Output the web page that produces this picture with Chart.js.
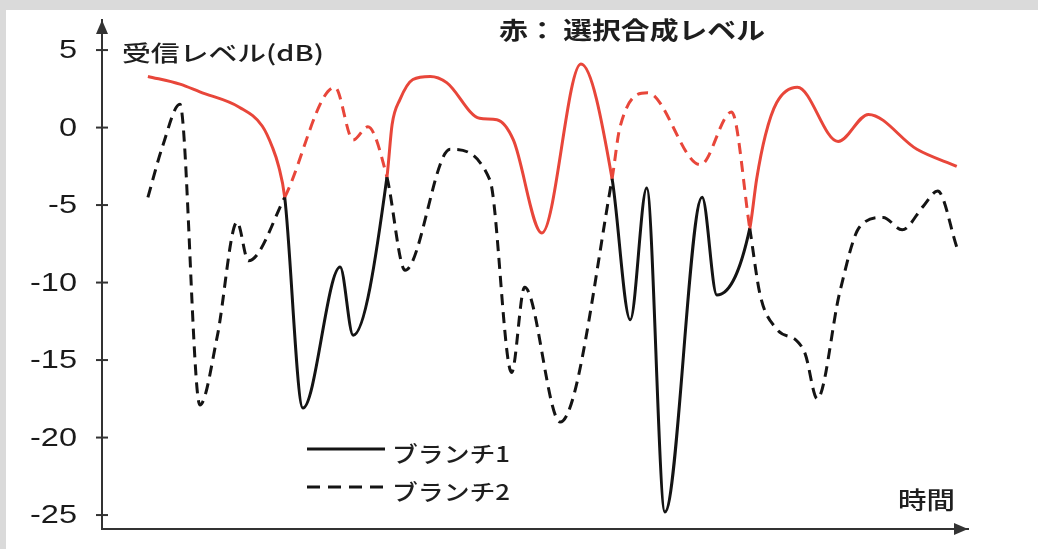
<!DOCTYPE html>
<html lang="ja">
<head>
<meta charset="UTF-8">
<title>選択合成ダイバーシチ</title>
<script src="https://cdn.jsdelivr.net/npm/chart.js"></script>
<style>
*{margin:0;padding:0;box-sizing:border-box;}
body{background:#dadada;width:1038px;height:549px;overflow:hidden;position:relative;}
.panel{position:absolute;left:6px;top:10px;right:0;bottom:0;background:#fff;}
.wrap{position:absolute;left:0;top:0;width:1038px;height:549px;}
</style>
</head>
<body>
<div class="panel"></div>
<div class="wrap"><canvas id="chart"></canvas></div>

<script>
// time axis runs 0..100, levels in dB
const branch1Time  = [5.3, 9.0, 11.3, 15.9, 18.5, 19.7, 20.4, 21.1, 23.2, 27.5, 29.0, 32.9, 33.5, 34.4, 35.9, 37.9, 39.8, 43.6, 45.6, 47.5, 50.8, 55.3, 58.9, 61.0, 62.9, 65.0, 69.3, 71.0, 74.8, 75.6, 76.6, 77.9, 80.3, 85.0, 88.5, 94.1, 98.7];
const branch1Level = [3.3, 2.8, 2.3, 1.3, 0.1, -1.3, -2.5, -4.5, -18.1, -9.0, -13.4, -3.2, 0.2, 1.8, 3.1, 3.3, 2.9, 0.6, 0.5, -0.8, -6.8, 4.1, -3.3, -12.4, -3.9, -24.8, -4.5, -10.8, -6.5, -3.3, -0.5, 1.6, 2.6, -0.9, 0.85, -1.4, -2.5];

const branch2Time  = [5.3, 7.0, 9.0, 11.3, 13.3, 15.6, 16.9, 21.1, 26.9, 29.0, 30.7, 32.9, 35.0, 40.2, 44.8, 47.3, 48.8, 52.9, 58.9, 59.8, 63.0, 69.1, 72.7, 74.8, 76.0, 77.9, 80.3, 81.2, 82.6, 85.2, 87.5, 90.2, 92.4, 94.8, 96.5, 98.7];
const branch2Level = [-4.5, -1.2, 1.5, -17.9, -13.5, -6.1, -8.6, -4.5, 2.6, -0.8, 0.05, -3.2, -9.2, -1.4, -3.4, -15.8, -10.3, -19.0, -3.3, 0.0, 2.25, -2.4, 1.0, -6.5, -10.8, -13.0, -13.8, -14.6, -17.5, -10.6, -6.4, -5.8, -6.6, -5.1, -4.1, -7.7];

// times where the stronger branch swaps (branch 1 is stronger at the start)
const crossTimes = [21.1, 32.9, 58.9, 74.8];

const yTickValues = [5, 0, -5, -10, -15, -20, -25];
const seriesNames = ['ブランチ1', 'ブランチ2'];
const titleText = '赤： 選択合成レベル';
const yAxisText = '受信レベル(dB)';
const xAxisText = '時間';

const RED = '#e8463a';
const INK = '#141414';
const AXIS = '#333';

function selectedBranch(t){
  let n = 0;
  crossTimes.forEach(c => { if (t > c) n++; });
  return n % 2 === 0 ? 1 : 2;
}
function segColor(branch){
  return ctx => selectedBranch((ctx.p0.parsed.x + ctx.p1.parsed.x) / 2) === branch ? RED : INK;
}

function stretchText(ctx, text, x, y, font, width, align){
  ctx.save();
  ctx.font = font;
  ctx.textBaseline = 'middle';
  ctx.textAlign = 'left';
  const k = width / ctx.measureText(text).width;
  const left = align === 'right' ? x - width : x;
  ctx.translate(left, y);
  ctx.scale(k, 1);
  ctx.fillText(text, 0, 0);
  ctx.restore();
}

const decor = {
  id: 'decor',
  afterDraw(chart){
    const {ctx, chartArea: a, scales: {y}} = chart;
    ctx.save();
    ctx.fillStyle = AXIS;
    ctx.strokeStyle = AXIS;
    ctx.lineWidth = 2;

    // arrow heads
    ctx.beginPath();
    ctx.moveTo(a.left, a.top);
    ctx.lineTo(a.left - 6, a.top + 14);
    ctx.lineTo(a.left + 6, a.top + 14);
    ctx.closePath();
    ctx.fill();
    ctx.beginPath();
    ctx.moveTo(a.right, a.bottom);
    ctx.lineTo(a.right - 14, a.bottom - 6);
    ctx.lineTo(a.right - 14, a.bottom + 6);
    ctx.closePath();
    ctx.fill();

    // y ticks crossing the axis + labels
    ctx.fillStyle = '#1a1a1a';
    y.ticks.forEach(t => {
      const py = y.getPixelForValue(t.value);
      ctx.beginPath();
      ctx.moveTo(a.left - 6, py);
      ctx.lineTo(a.left + 6, py);
      ctx.stroke();
      ctx.save();
      ctx.font = '26px "Liberation Sans", Arial, sans-serif';
      ctx.textBaseline = 'middle';
      ctx.textAlign = 'right';
      ctx.translate(a.left - 25, py + 1);
      ctx.scale(1.25, 1);
      ctx.fillText(String(t.value), 0, 0);
      ctx.restore();
    });

    // texts
    ctx.fillStyle = '#1e1e1e';
    stretchText(ctx, yAxisText, a.left + 20, 53, '500 22px "Noto Sans CJK JP"', 202);
    stretchText(ctx, titleText, 499, 30, 'bold 24px "Noto Sans CJK JP"', 266);
    stretchText(ctx, xAxisText, 898, 500, '500 24px "Noto Sans CJK JP"', 57);

    // legend
    [449, 487].forEach((ly, i) => {
      ctx.save();
      ctx.strokeStyle = INK;
      ctx.lineWidth = 3;
      ctx.setLineDash(i ? [13, 8] : []);
      ctx.beginPath();
      ctx.moveTo(307, ly);
      ctx.lineTo(385, ly);
      ctx.stroke();
      ctx.restore();
      ctx.fillStyle = '#1e1e1e';
      stretchText(ctx, seriesNames[i], 392, ly + 5, '500 22px "Noto Sans CJK JP"', 118);
    });
    ctx.restore();
  }
};

new Chart(document.getElementById('chart'), {
  type: 'line',
  data: {
    datasets: [
      {
        label: seriesNames[0],
        data: branch1Time.map((t, i) => ({x: t, y: branch1Level[i]})),
        borderColor: INK,
        borderWidth: 3,
        pointRadius: 0,
        cubicInterpolationMode: 'monotone',
        segment: {borderColor: segColor(1)}
      },
      {
        label: seriesNames[1],
        data: branch2Time.map((t, i) => ({x: t, y: branch2Level[i]})),
        borderColor: INK,
        borderWidth: 3,
        borderDash: [11, 7],
        pointRadius: 0,
        cubicInterpolationMode: 'monotone',
        segment: {borderColor: segColor(2)}
      }
    ]
  },
  options: {
    responsive: true,
    maintainAspectRatio: false,
    animation: false,
    layout: {padding: {left: 0, right: 70, top: 20, bottom: 0}},
    plugins: {legend: {display: false}, tooltip: {enabled: false}},
    scales: {
      x: {
        type: 'linear',
        min: 0,
        max: 100,
        ticks: {display: false},
        grid: {display: false},
        border: {display: true, color: AXIS, width: 2},
        afterFit: s => { s.height = 20; }
      },
      y: {
        min: -25.9,
        max: 6.94,
        ticks: {display: false},
        grid: {display: false},
        border: {display: true, color: AXIS, width: 2},
        afterBuildTicks: s => { s.ticks = yTickValues.map(v => ({value: v})); },
        afterFit: s => { s.width = 102; }
      }
    }
  },
  plugins: [decor]
});
</script>
</body>
</html>
